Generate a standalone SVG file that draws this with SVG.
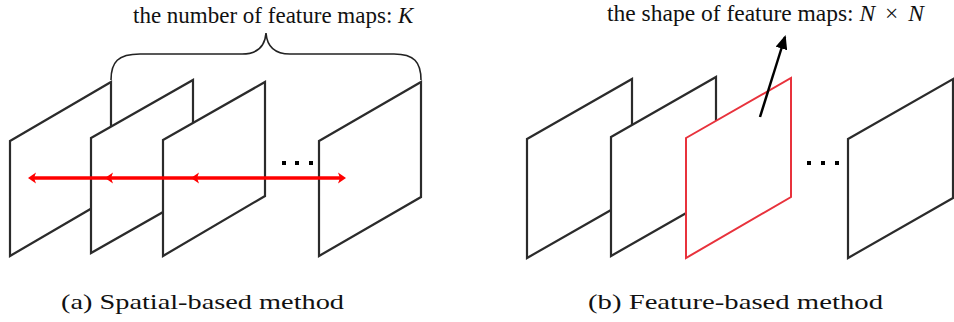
<svg xmlns="http://www.w3.org/2000/svg" width="954" height="322" viewBox="0 0 954 322">
<style>
.map{fill:#fff;stroke:#2b2b2b;stroke-width:2.2;stroke-linejoin:miter}
.red{fill:#fff;stroke:#e8323c;stroke-width:2}
.lbl{font-family:"Liberation Serif","Times New Roman",serif;fill:#111}
.cap{font-family:"Liberation Serif","Times New Roman",serif;font-size:22px;fill:#111}
.dot{fill:#000}
.rl{stroke:#f00;stroke-width:3.6;fill:none}
.rh{fill:#f00}
</style>
<defs>
<marker id="ah" markerWidth="14" markerHeight="12" refX="12" refY="6" orient="auto" markerUnits="userSpaceOnUse" viewBox="0 0 14 12">
<path d="M0,0 L14,6 L0,12 Z" fill="#000"/>
</marker>
</defs>
<rect width="954" height="322" fill="#fff"/>

<!-- Panel (a) -->
<g id="a-map1"><polygon class="map" points="10,141 111,82 111,197 10,256"/></g>
<g id="a-map2"><polygon class="map" points="91,138 193,80 193,195 91,253"/></g>
<g id="a-map3"><polygon class="map" points="163,140 265,82 265,196 163,256"/></g>
<g id="a-dots">
<rect class="dot" x="282" y="161" width="4" height="4"/>
<rect class="dot" x="295" y="161" width="4" height="4"/>
<rect class="dot" x="309" y="161" width="4" height="4"/>
</g>
<g id="a-map4"><polygon class="map" points="319,141 421,82 421,197 319,256"/></g>

<!-- Panel (b) -->
<g id="b-map1"><polygon class="map" points="527,139 632,79 632,198 527,258"/></g>
<g id="b-map2"><polygon class="map" points="611,137 716,77 716,196 611,256"/></g>
<g id="b-map3"><polygon class="red" points="686,138 791,78 791,197 686,258"/></g>
<g id="b-dots">
<rect class="dot" x="807" y="161" width="4" height="4"/>
<rect class="dot" x="821" y="161" width="4" height="4"/>
<rect class="dot" x="835" y="161" width="4" height="4"/>
</g>
<g id="b-map4"><polygon class="map" points="848,139 953,79 953,198 848,258"/></g>

<!-- Connectors -->
<g id="connectors">
<line class="rl" x1="31" y1="178" x2="342" y2="178"/>
<polygon class="rh" points="28,178 36,172.5 34,178 36,183.5"/>
<polygon class="rh" points="105,178 113,172.5 111,178 113,183.5"/>
<polygon class="rh" points="191,178 199,172.5 197,178 199,183.5"/>
<polygon class="rh" points="346,178 338,172.5 340,178 338,183.5"/>
<path d="M111,80 C111,62 118,54 140,54 L242,54 C258,54 265,46 266,33 C267,46 274,54 290,54 L394,54 C414,54 421,62 421,80" fill="none" stroke="#222" stroke-width="1.6"/>
<line x1="760" y1="117" x2="785" y2="37" stroke="#000" stroke-width="2.5" marker-end="url(#ah)"/>
</g>

<!-- Labels -->
<text class="lbl" x="133" y="23" font-size="23">the number of feature maps: <tspan font-style="italic">K</tspan></text>
<text class="lbl" x="607" y="21" font-size="23.5">the shape of feature maps: <tspan font-style="italic">N</tspan><tspan dx="4"> × </tspan><tspan dx="4" font-style="italic">N</tspan></text>
<text class="cap" x="61" y="309" textLength="283" lengthAdjust="spacingAndGlyphs">(a) Spatial-based method</text>
<text class="cap" x="588" y="309" textLength="295" lengthAdjust="spacingAndGlyphs">(b) Feature-based method</text>
</svg>
